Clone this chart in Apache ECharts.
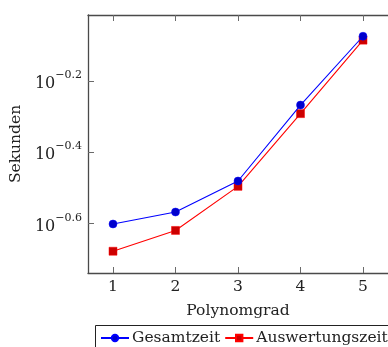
<!DOCTYPE html>
<html>
<head>
<meta charset="utf-8">
<script src="https://cdn.jsdelivr.net/npm/echarts@6/dist/echarts.min.js"></script>
<style>
  html, body { margin: 0; padding: 0; background: #fff; }
  #chart { width: 388px; height: 347px; }
</style>
</head>
<body>
<div id="chart"></div>
<script>
// Polynomial degree on the x axis
const polynomgrad = [1, 2, 3, 4, 5];
// Runtimes in seconds
const gesamtzeit = [0.2503, 0.2704, 0.3304, 0.5395, 0.8414];
const auswertungszeit = [0.2099, 0.2401, 0.3192, 0.5105, 0.8204];
// Exponents of the labelled y ticks (10^e)
const yTickExponents = [-0.6, -0.4, -0.2];

const FONT = 'DejaVu Serif';
const frameColor = '#4a4a4a';
const tickColor = '#6a6a6a';

const yTickValues = yTickExponents.map(e => Math.pow(10, e));

function pairs(xs, ys) { return xs.map((x, i) => [x, ys[i]]); }

function expLabel(v) {
  const e = Math.round(Math.log10(v) * 10) / 10;
  const s = (e < 0 ? '\u2212' : '') + Math.abs(e).toFixed(1);
  return '{b|10}{sup|' + s + '}';
}

const chart = echarts.init(document.getElementById('chart'), null, { renderer: 'canvas' });

chart.setOption({
  animation: false,
  textStyle: { fontFamily: FONT },
  grid: { left: 88, top: 15, width: 310, height: 258 },
  // Legend frame runs past the right edge of the canvas
  graphic: [{
    type: 'rect',
    z: 0,
    shape: { x: 95.5, y: 325.5, width: 340, height: 40 },
    style: { fill: '#fff', stroke: '#222', lineWidth: 1 }
  }],
  legend: {
    left: 95, top: 326,
    width: 360,
    padding: [4, 6, 4, 5],
    itemGap: 4,
    itemWidth: 28,
    itemHeight: 8,
    z: 5,
    textStyle: { fontFamily: FONT, fontSize: 15.5, color: '#222', padding: [0, 0, 0, -2] },
    data: ['Gesamtzeit', 'Auswertungszeit']
  },
  xAxis: [{
    type: 'value',
    min: 0.6, max: 5.4,
    splitNumber: 5,
    name: 'Polynomgrad',
    nameLocation: 'middle',
    nameGap: 30,
    nameTextStyle: { fontFamily: FONT, fontSize: 15.5, color: '#222' },
    axisLine: { lineStyle: { color: frameColor, width: 1.3 } },
    axisTick: { inside: true, length: 6, lineStyle: { color: tickColor, width: 1 }, customValues: polynomgrad },
    axisLabel: { customValues: polynomgrad, margin: 6, fontFamily: FONT, fontSize: 15.5, color: '#222' },
    splitLine: { show: false }
  }, {
    type: 'value',
    position: 'top',
    min: 0.6, max: 5.4,
    splitNumber: 5,
    axisLine: { lineStyle: { color: frameColor, width: 1.3 } },
    axisTick: { inside: true, length: 6, lineStyle: { color: tickColor, width: 1 }, customValues: polynomgrad },
    axisLabel: { show: false, customValues: polynomgrad },
    splitLine: { show: false }
  }],
  yAxis: {
    type: 'log',
    logBase: 10,
    min: Math.pow(10, -0.739),
    max: Math.pow(10, -0.0154),
    name: 'Sekunden',
    nameLocation: 'middle',
    nameGap: 61,
    nameRotate: 90,
    nameTextStyle: { fontFamily: FONT, fontSize: 15.5, color: '#222' },
    axisLine: { show: true, lineStyle: { color: frameColor, width: 1.3 } },
    axisTick: { show: true, inside: true, length: 6, lineStyle: { color: tickColor, width: 1 }, customValues: yTickValues },
    axisLabel: {
      customValues: yTickValues,
      margin: 6,
      formatter: expLabel,
      color: '#222',
      rich: {
        b: { fontFamily: FONT, fontSize: 16, color: '#222', verticalAlign: 'bottom', lineHeight: 22 },
        sup: { fontFamily: FONT, fontSize: 11, color: '#222', verticalAlign: 'top', lineHeight: 12 }
      }
    },
    splitLine: { show: false },
    minorTick: { show: false }
  },
  series: [{
    name: 'Gesamtzeit',
    type: 'line',
    data: pairs(polynomgrad, gesamtzeit),
    symbol: 'circle',
    symbolSize: 8,
    lineStyle: { color: '#0000ff', width: 1.1 },
    itemStyle: { color: '#0000cc', borderColor: '#0000ff', borderWidth: 0.5 },
    z: 3
  }, {
    name: 'Auswertungszeit',
    type: 'line',
    data: pairs(polynomgrad, auswertungszeit),
    symbol: 'rect',
    symbolSize: 8,
    lineStyle: { color: '#ff0000', width: 1.1 },
    itemStyle: { color: '#cc0000', borderColor: '#ff0000', borderWidth: 0.5 },
    z: 2
  }]
});
</script>
</body>
</html>
